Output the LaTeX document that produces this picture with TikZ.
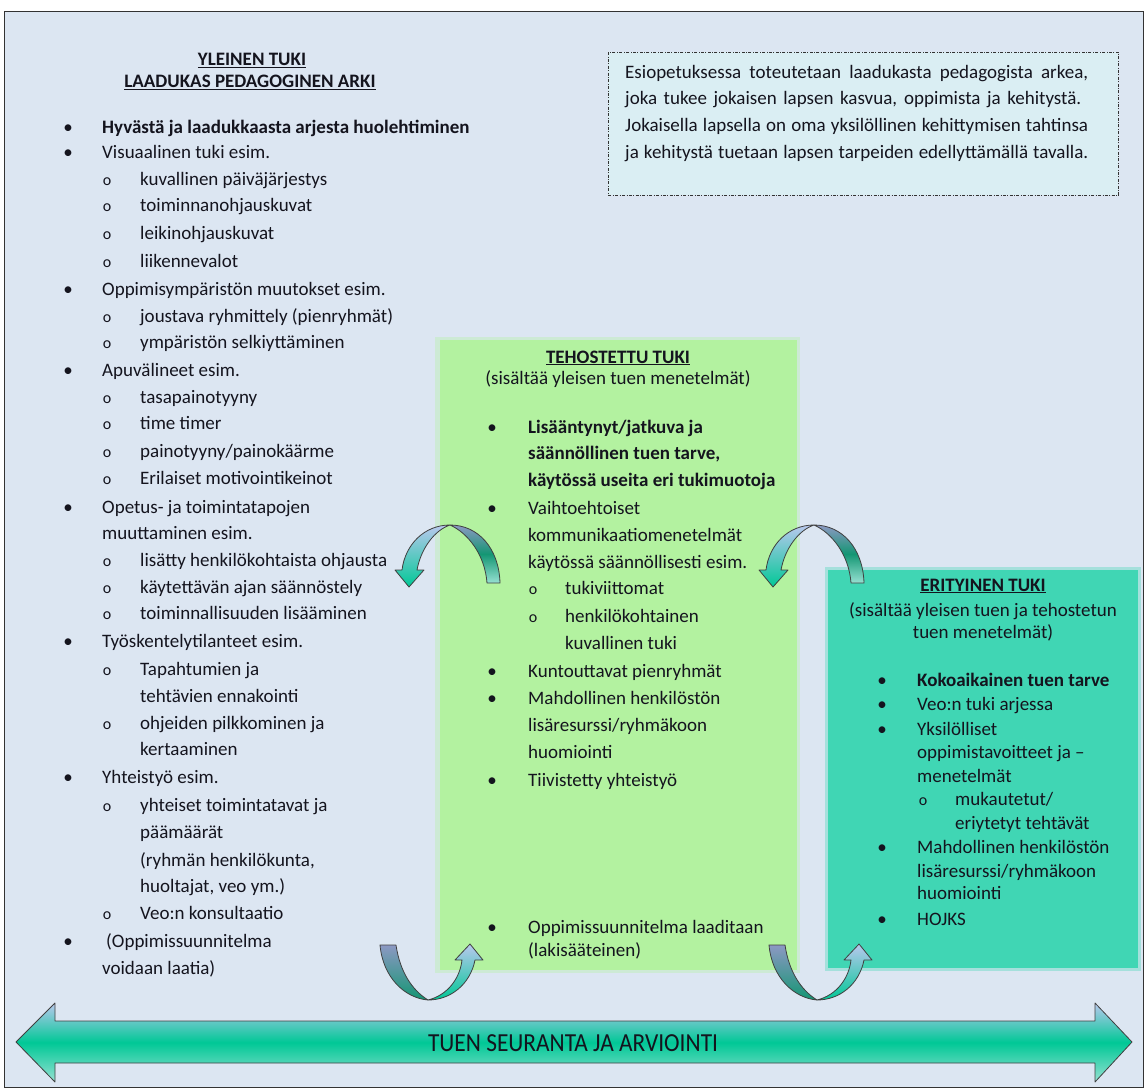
\documentclass[tikz,border=0pt]{standalone}
\usepackage{fontspec}
\setmainfont{Carlito}
\definecolor{bgc}{RGB}{220,230,242}
\definecolor{dboxc}{RGB}{218,238,243}
\definecolor{grn}{RGB}{179,242,160}
\definecolor{teal2}{RGB}{64,214,180}
\definecolor{lblue}{RGB}{185,200,238}
\definecolor{gblue}{RGB}{140,152,195}
\definecolor{mgreen}{RGB}{0,200,150}
\definecolor{dgreen}{RGB}{20,150,115}
\definecolor{ltteal}{RGB}{150,225,210}
\definecolor{txtc}{RGB}{20,20,30}
\newcommand\fs{\fontsize{19}{23}\selectfont}
\tikzset{
  tx/.style={anchor=base west, inner sep=0pt, font=\fs, text=txtc},
  txb/.style={tx, font=\fs\bfseries},
  bt/.style={anchor=base, inner sep=0pt, font=\fs, text=txtc},
  ob/.style={anchor=base, inner sep=0pt, font=\fontsize{16}{18}\selectfont, text=txtc},
  hd/.style={anchor=base, inner sep=0pt, font=\fs\bfseries, text=txtc},
  hc/.style={anchor=base, inner sep=0pt, font=\fs, text=txtc},
  arrowline/.style={draw=black!75, line width=0.8pt, line join=round},
}
\begin{document}
\begin{tikzpicture}[x=1pt,y=-1pt]
\useasboundingbox (0,0) rectangle (1145,1091);
\fill[white] (0,0) rectangle (1145,1091);
% frame
\draw[fill=bgc, draw=black!80, line width=1pt] (4,12) rectangle (1143,1087);

% intro dashed box
\node[draw=black!80, line width=0.8pt, dash pattern=on 3pt off 1.5pt on 0.8pt off 1.5pt, fill=dboxc, anchor=north west, minimum width=510pt, minimum height=143pt, inner sep=0pt] (intro) at (608,52) {};
\node[tx] (i1) at (625,79) {\makebox[463pt][s]{Esiopetuksessa toteutetaan laadukasta pedagogista arkea,}};
\node[tx] (i2) at (625,105) {\makebox[456pt][s]{joka tukee jokaisen lapsen kasvua, oppimista ja kehitystä.}};
\node[tx] (i3) at (625,132) {\makebox[463pt][s]{Jokaisella lapsella on oma yksilöllinen kehittymisen tahtinsa}};
\node[tx] (i4) at (625,159) {\makebox[463pt][s]{ja kehitystä tuetaan lapsen tarpeiden edellyttämällä tavalla.}};

% headings left
\node[hd] (h1) at (252,66) {\underline{YLEINEN TUKI}};
\node[hd] (h2) at (250,88) {\underline{LAADUKAS PEDAGOGINEN ARKI}};

% left list
\node[bt] (b1) at (68,134) {•};
\node[txb] (l1) at (102,134) {Hyvästä ja laadukkaasta arjesta huolehtiminen};
\node[bt] (b2) at (68,159) {•};
\node[tx] (l2) at (102,159) {Visuaalinen tuki esim.};
\node[ob] (o3) at (107,186) {o};
\node[tx] (l3) at (140,186) {kuvallinen päiväjärjestys};
\node[ob] (o4) at (107,212) {o};
\node[tx] (l4) at (140,212) {toiminnanohjauskuvat};
\node[ob] (o5) at (107,240) {o};
\node[tx] (l5) at (140,240) {leikinohjauskuvat};
\node[ob] (o6) at (107,267) {o};
\node[tx] (l6) at (140,267) {liikennevalot};
\node[bt] (b7) at (68,295) {•};
\node[tx] (l7) at (102,295) {Oppimisympäristön muutokset esim.};
\node[ob] (o8) at (107,322) {o};
\node[tx] (l8) at (140,322) {joustava ryhmittely (pienryhmät)};
\node[ob] (o9) at (107,348) {o};
\node[tx] (l9) at (140,348) {ympäristön selkiyttäminen};
\node[bt] (b10) at (68,376) {•};
\node[tx] (l10) at (102,376) {Apuvälineet esim.};
\node[ob] (o11) at (107,403) {o};
\node[tx] (l11) at (140,403) {tasapainotyyny};
\node[ob] (o12) at (107,429) {o};
\node[tx] (l12) at (140,429) {time timer};
\node[ob] (o13) at (107,457) {o};
\node[tx] (l13) at (140,457) {painotyyny/painokäärme};
\node[ob] (o14) at (107,484) {o};
\node[tx] (l14) at (140,484) {Erilaiset motivointikeinot};
\node[bt] (b15) at (68,513) {•};
\node[tx] (l15) at (102,513) {Opetus- ja toimintatapojen};
\node[tx] (l16) at (102,539) {muuttaminen esim.};
\node[ob] (o17) at (107,566) {o};
\node[tx] (l17) at (140,566) {lisätty henkilökohtaista ohjausta};
\node[ob] (o18) at (107,593) {o};
\node[tx] (l18) at (140,593) {käytettävän ajan säännöstely};
\node[ob] (o19) at (107,619) {o};
\node[tx] (l19) at (140,619) {toiminnallisuuden lisääminen};
\node[bt] (b20) at (68,647) {•};
\node[tx] (l20) at (102,647) {Työskentelytilanteet esim.};
\node[ob] (o21) at (107,675) {o};
\node[tx] (l21) at (140,675) {Tapahtumien ja};
\node[tx] (l22) at (140,702) {tehtävien ennakointi};
\node[ob] (o23) at (107,729) {o};
\node[tx] (l23) at (140,729) {ohjeiden pilkkominen ja};
\node[tx] (l24) at (140,755) {kertaaminen};
\node[bt] (b25) at (68,783) {•};
\node[tx] (l25) at (102,783) {Yhteistyö esim.};
\node[ob] (o26) at (107,811) {o};
\node[tx] (l26) at (140,811) {yhteiset toimintatavat ja};
\node[tx] (l27) at (140,838) {päämäärät};
\node[tx] (l28) at (140,866) {(ryhmän henkilökunta,};
\node[tx] (l29) at (140,892) {huoltajat, veo ym.)};
\node[ob] (o30) at (107,919) {o};
\node[tx] (l30) at (140,919) {Veo:n konsultaatio};
\node[bt] (b31) at (68,947) {•};
\node[tx] (l31) at (106,947) {(Oppimissuunnitelma};
\node[tx] (l32) at (102,974) {voidaan laatia)};

% green box (tehostettu)
\fill[grn, opacity=0.35] (435,337) rectangle (800,973);
\node[fill=grn, anchor=north west, minimum width=357pt, minimum height=630pt, inner sep=0pt] (teh) at (440,340) {};
\node[hd] (t1) at (618,363) {\underline{TEHOSTETTU TUKI}};
\node[hc] (t2) at (618,384) {(sisältää yleisen tuen menetelmät)};
\node[bt] (tb1) at (492,433) {•};
\node[txb] (t3) at (528,433) {Lisääntynyt/jatkuva ja};
\node[txb] (t4) at (528,459) {säännöllinen tuen tarve,};
\node[txb] (t5) at (528,486) {käytössä useita eri tukimuotoja};
\node[bt] (tb2) at (492,514) {•};
\node[tx] (t6) at (528,514) {Vaihtoehtoiset};
\node[tx] (t7) at (528,541) {kommunikaatiomenetelmät};
\node[tx] (t8) at (528,568) {käytössä säännöllisesti esim.};
\node[ob] (to1) at (533,594) {o};
\node[tx] (t9) at (565,594) {tukiviittomat};
\node[ob] (to2) at (533,622) {o};
\node[tx] (t10) at (565,622) {henkilökohtainen};
\node[tx] (t11) at (565,649) {kuvallinen tuki};
\node[bt] (tb3) at (492,677) {•};
\node[tx] (t12) at (528,677) {Kuntouttavat pienryhmät};
\node[bt] (tb4) at (492,704) {•};
\node[tx] (t13) at (528,704) {Mahdollinen henkilöstön};
\node[tx] (t14) at (528,731) {lisäresurssi/ryhmäkoon};
\node[tx] (t15) at (528,758) {huomiointi};
\node[bt] (tb5) at (492,786) {•};
\node[tx] (t16) at (528,786) {Tiivistetty yhteistyö};
\node[bt] (tb6) at (492,933) {•};
\node[tx] (t17) at (528,933) {Oppimissuunnitelma laaditaan};
\node[tx] (t18) at (528,956) {(lakisääteinen)};

% teal box (erityinen)
\fill[teal2, opacity=0.35] (825,567) rectangle (1141,971);
\node[fill=teal2, anchor=north west, minimum width=310pt, minimum height=398pt, inner sep=0pt] (eri) at (828,570) {};
\node[hd] (e1) at (983,591) {\underline{ERITYINEN TUKI}};
\node[hc] (e2) at (983,616) {(sisältää yleisen tuen ja tehostetun};
\node[hc] (e3) at (983,638) {tuen menetelmät)};
\node[bt] (eb1) at (882,686) {•};
\node[txb] (e4) at (917,686) {Kokoaikainen tuen tarve};
\node[bt] (eb2) at (882,710) {•};
\node[tx] (e5) at (917,710) {Veo:n tuki arjessa};
\node[bt] (eb3) at (882,735) {•};
\node[tx] (e6) at (917,735) {Yksilölliset};
\node[tx] (e7) at (917,758) {oppimistavoitteet ja –};
\node[tx] (e8) at (917,782) {menetelmät};
\node[ob] (eo1) at (923,805) {o};
\node[tx] (e9) at (955,805) {mukautetut/};
\node[tx] (e10) at (955,829) {eriytetyt tehtävät};
\node[bt] (eb4) at (882,853) {•};
\node[tx] (e11) at (917,853) {Mahdollinen henkilöstön};
\node[tx] (e12) at (917,877) {lisäresurssi/ryhmäkoon};
\node[tx] (e13) at (917,899) {huomiointi};
\node[bt] (eb5) at (882,925) {•};
\node[tx] (e14) at (917,925) {HOJKS};

% curved arrows: upper-left
\begin{scope}
\shade[arrowline, top color=lblue, bottom color=mgreen]
  (450,525) .. controls (424,525) and (405,545) .. (402,570) -- (395,570) -- (409,587) -- (424,570) -- (417,570) .. controls (421,548) and (435,530) .. (450,525) -- cycle;
\shade[arrowline, top color=gblue, bottom color=ltteal, middle color=dgreen]
  (450,525) .. controls (478,525) and (499,548) .. (500,583) -- (487,583) .. controls (485,555) and (468,533) .. (450,525) -- cycle;
\end{scope}
% upper-right
\begin{scope}[xshift=364pt]
\shade[arrowline, top color=lblue, bottom color=mgreen]
  (450,525) .. controls (424,525) and (405,545) .. (402,570) -- (395,570) -- (409,587) -- (424,570) -- (417,570) .. controls (421,548) and (435,530) .. (450,525) -- cycle;
\shade[arrowline, top color=gblue, bottom color=ltteal, middle color=dgreen]
  (450,525) .. controls (478,525) and (499,548) .. (500,583) -- (487,583) .. controls (485,555) and (468,533) .. (450,525) -- cycle;
\end{scope}
% lower-left
\begin{scope}
\shade[arrowline, top color=gblue, bottom color=dgreen]
  (380,945) -- (396,945) .. controls (400,972) and (412,990) .. (428,1000) .. controls (405,998) and (383,978) .. (380,945) -- cycle;
\shade[arrowline, top color=lblue, bottom color=mgreen]
  (428,1000) .. controls (448,995) and (460,978) .. (462,960) -- (455,960) -- (470,944) -- (483,960) -- (475,960) .. controls (470,985) and (450,1000) .. (428,1000) -- cycle;
\end{scope}
% lower-right
\begin{scope}[xshift=389pt]
\shade[arrowline, top color=gblue, bottom color=dgreen]
  (380,945) -- (396,945) .. controls (400,972) and (412,990) .. (428,1000) .. controls (405,998) and (383,978) .. (380,945) -- cycle;
\shade[arrowline, top color=lblue, bottom color=mgreen]
  (428,1000) .. controls (448,995) and (460,978) .. (462,960) -- (455,960) -- (470,944) -- (483,960) -- (475,960) .. controls (470,985) and (450,1000) .. (428,1000) -- cycle;
\end{scope}

% bottom double arrow
\shade[arrowline, top color=lblue, bottom color=ltteal, middle color=mgreen]
  (16,1042) -- (55,1003) -- (55,1021) -- (1095,1021) -- (1095,1003) -- (1132,1042)
  -- (1095,1082) -- (1095,1063) -- (55,1063) -- (55,1082) -- cycle;
\node[anchor=center, inner sep=0pt, font=\fontsize{26}{28}\selectfont, text=txtc, xscale=0.9] (seur) at (573,1043) {TUEN SEURANTA JA ARVIOINTI};
\end{tikzpicture}
\end{document}
